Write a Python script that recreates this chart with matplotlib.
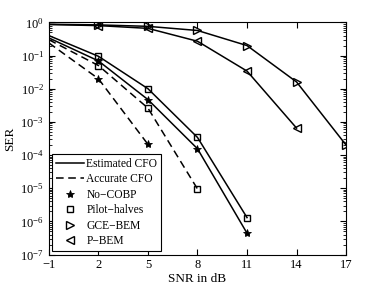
import numpy as np
import matplotlib.pyplot as plt
from matplotlib.lines import Line2D

plt.rcParams['font.family'] = ['Liberation Serif', 'DejaVu Serif']
plt.rcParams['mathtext.fontset'] = 'stix'

snr = [-1, 2, 5, 8, 11, 14, 17]

# estimated CFO (solid)
nocobp_est = [0.34, 0.069, 0.0047, 1.55e-4, 4.4e-7]
pilot_est = [0.40, 0.095, 0.010, 3.4e-4, 1.3e-6]
gce_est = [0.88, 0.84, 0.76, 0.57, 0.20, 0.016, 2.0e-4]
pbem_est = [0.86, 0.80, 0.66, 0.27, 0.034, 6.5e-4]

# accurate CFO (dashed)
nocobp_acc = [0.24, 0.020, 2.1e-4]
pilot_acc = [0.30, 0.050, 0.0026, 9.5e-6]

xticks = [-1, 2, 5, 8, 11, 14, 17]


def main():
    fig = plt.figure(figsize=(3.82, 2.87), dpi=100)
    ax = fig.add_axes([0.128, 0.113, 0.778, 0.809])

    star = dict(marker='*', markersize=6, markeredgewidth=0.6)
    sq = dict(marker='s', markersize=5, markerfacecolor='none', markeredgewidth=1.0)
    tri_r = dict(marker='>', markersize=6, markerfacecolor='none', markeredgewidth=1.0)
    tri_l = dict(marker='<', markersize=6, markerfacecolor='none', markeredgewidth=1.0)

    # markers are not drawn at the left edge (SNR = -1)
    me = slice(1, None)
    ax.plot(snr[:len(nocobp_est)], nocobp_est, 'k-', lw=1.1, markevery=me, **star)
    ax.plot(snr[:len(pilot_est)], pilot_est, 'k-', lw=1.1, markevery=me, **sq)
    ax.plot(snr[:len(gce_est)], gce_est, 'k-', lw=1.1, markevery=me, **tri_r)
    ax.plot(snr[:len(pbem_est)], pbem_est, 'k-', lw=1.1, markevery=me, **tri_l)
    ax.plot(snr[:len(nocobp_acc)], nocobp_acc, 'k--', lw=1.1, dashes=(5, 3), markevery=me, **star)
    ax.plot(snr[:len(pilot_acc)], pilot_acc, 'k--', lw=1.1, dashes=(5, 3), markevery=me, **sq)

    ax.set_yscale('log')
    ax.set_xlim(-1, 17)
    ax.set_ylim(1e-7, 1)
    ax.set_xticks(xticks)
    ax.set_yticks([10.0 ** k for k in range(-7, 1)])
    ax.tick_params(which='both', direction='in', top=True, right=True, labelsize=9)
    ax.tick_params(which='major', length=4)
    ax.tick_params(which='minor', length=2)
    ax.set_xlabel('SNR in dB', fontsize=9.5, labelpad=1)
    ax.set_ylabel('SER', fontsize=9.5, labelpad=3)

    handles = [
        Line2D([], [], color='k', ls='-', lw=1.1),
        Line2D([], [], color='k', ls='--', lw=1.1, dashes=(5, 3)),
        Line2D([], [], color='k', ls='none', **star),
        Line2D([], [], color='k', ls='none', **sq),
        Line2D([], [], color='k', ls='none', **tri_r),
        Line2D([], [], color='k', ls='none', **tri_l),
    ]
    labels = ['Estimated CFO', 'Accurate CFO', 'No\u2212COBP', 'Pilot\u2212halves',
              'GCE\u2212BEM', 'P\u2212BEM']
    leg = ax.legend(handles, labels, loc='lower left', fontsize=8.3, fancybox=False,
                    edgecolor='k', framealpha=1, borderaxespad=0.3, handlelength=2.4,
                    labelspacing=0.3, borderpad=0.35, handletextpad=0.2)
    leg.get_frame().set_linewidth(0.8)

    fig.savefig('out.png', dpi=100)


if __name__ == '__main__':
    main()
